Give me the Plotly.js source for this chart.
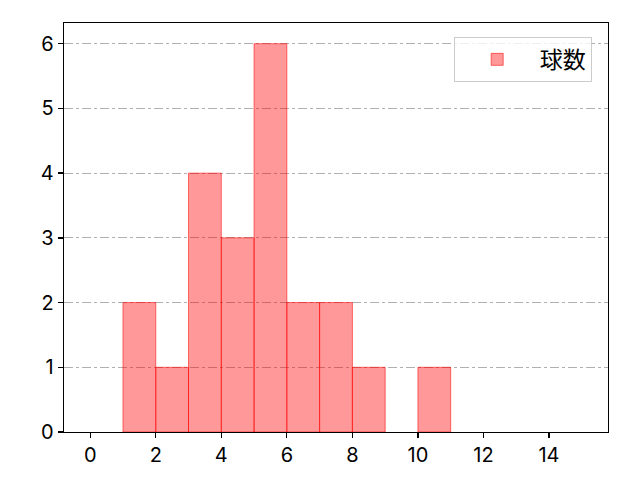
<!DOCTYPE html>
<html>
<head>
<meta charset="utf-8">
<script src="https://cdn.plot.ly/plotly-3.0.1.min.js"></script>
<style>html,body{margin:0;padding:0;background:#fff;}#chart{width:640px;height:480px;}</style>
</head>
<body>
<div id="chart"></div>
<script>
const binCenters = [1.5, 2.5, 3.5, 4.5, 5.5, 6.5, 7.5, 8.5, 9.5, 10.5];
const counts = [2, 1, 4, 3, 6, 2, 2, 1, 0, 1];
const seriesName = '球数';
const xTicks = [0, 2, 4, 6, 8, 10, 12, 14];
const yTicks = [0, 1, 2, 3, 4, 5, 6];

const trace = {
  type: 'bar',
  x: binCenters,
  y: counts,
  width: 1,
  name: seriesName,
  marker: {
    color: 'rgba(255,0,0,0.4)',
    line: {color: 'rgba(255,0,0,0.55)', width: counts.map(c => c > 0 ? 1 : 0)}
  },
  showlegend: true
};

const axisCommon = {
  showline: true, mirror: true, linecolor: '#000', linewidth: 1.3,
  ticks: 'outside', ticklen: 5, tickwidth: 1.3, tickcolor: '#000',
  zeroline: false,
  tickfont: {family: 'Inter, sans-serif', size: 20, color: '#000'}
};

const layout = {
  width: 640, height: 480,
  margin: {l: 64, r: 32, t: 23, b: 48},
  paper_bgcolor: '#fff', plot_bgcolor: '#fff',
  bargap: 0,
  xaxis: Object.assign({}, axisCommon, {
    range: [-0.8, 15.8], tickvals: xTicks, ticktext: xTicks.map(String), showgrid: false
  }),
  yaxis: Object.assign({}, axisCommon, {
    range: [0, 6.32], tickvals: yTicks, ticktext: yTicks.map(String),
    showgrid: true, gridcolor: '#b0b0b0', gridwidth: 1, griddash: 'dashdot'
  }),
  legend: {
    x: 0.97, y: 0.966, xanchor: 'right', yanchor: 'top',
    bgcolor: 'rgba(255,255,255,0.8)', bordercolor: '#cccccc', borderwidth: 1,
    itemwidth: 75,
    font: {family: 'Noto Sans CJK JP, sans-serif', size: 23, color: '#000'}
  },
  showlegend: true
};

Plotly.newPlot('chart', [trace], layout, {displayModeBar: false, staticPlot: true});
</script>
</body>
</html>
